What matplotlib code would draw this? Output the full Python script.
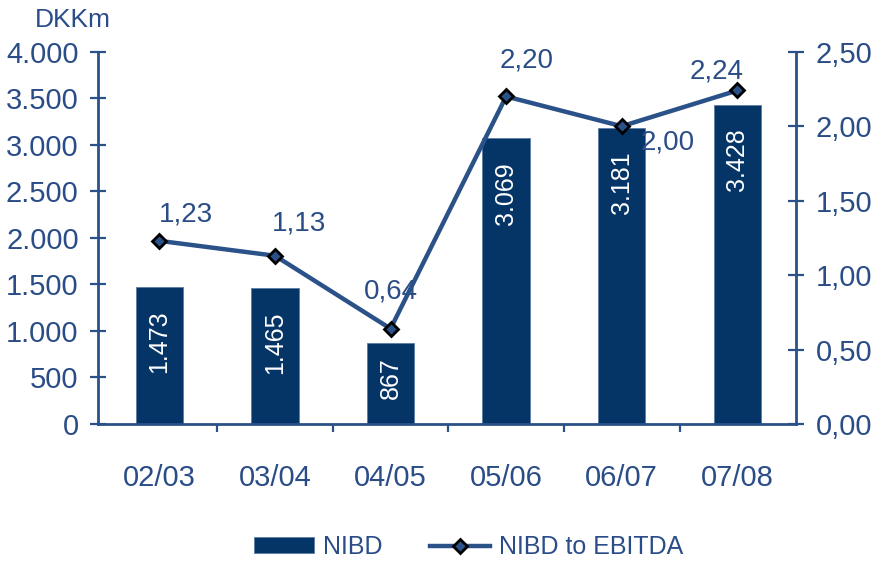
"""
NIBD og NIBD/EBITDA - søjler med linje på sekundær akse
"""

import matplotlib
matplotlib.use("Agg")
import matplotlib.pyplot as plt
from matplotlib.ticker import FuncFormatter, FixedLocator

# Data
perioder = ['02/03', '03/04', '04/05', '05/06', '06/07', '07/08']
nibd = [1473, 1465, 867, 3069, 3181, 3428]
nibd_ebitda = [1.23, 1.13, 0.64, 2.20, 2.00, 2.24]
venstre_ticks = [0, 500, 1000, 1500, 2000, 2500, 3000, 3500, 4000]
hoejre_ticks = [0.0, 0.5, 1.0, 1.5, 2.0, 2.5]

# label offsets (points) for the ratio labels
etiket_offset = [(19, 19), (17, 23), (0, 27), (15, 26), (33, -12), (-15, 14)]

BAR_FARVE = '#053567'
LINJE_FARVE = '#2B5189'
TEKST_FARVE = '#2A4D88'

plt.rcParams['font.family'] = ['Liberation Sans', 'DejaVu Sans']


def tusind(v, pos):
    return f"{int(v):,}".replace(',', '.')


def komma(v, pos):
    return f"{v:.2f}".replace('.', ',')


fig = plt.figure(figsize=(8.76, 5.63), dpi=100)
ax = fig.add_axes([0.112, 0.247, 0.797, 0.661])
ax2 = ax.twinx()

x = list(range(len(perioder)))
bars = ax.bar(x, nibd, width=0.41, color=BAR_FARVE, edgecolor='#5d7aa6',
              linewidth=0.6, zorder=2, label='NIBD')

for xi, v in zip(x, nibd):
    txt = tusind(v, None)
    off = -17 if v > 1000 else -10
    ax.annotate(txt, (xi, v), xytext=(0, off), textcoords='offset points',
                rotation=90, ha='center', va='top', color='white', fontsize=18,
                zorder=3)

linje, = ax2.plot(x, nibd_ebitda, color=LINJE_FARVE, linewidth=3.2,
                  marker='D', markersize=7, markerfacecolor=LINJE_FARVE,
                  markeredgecolor='black', markeredgewidth=2,
                  label='NIBD to EBITDA', zorder=4)

for xi, v, (dx, dy) in zip(x, nibd_ebitda, etiket_offset):
    ax2.annotate(komma(v, None), (xi, v), xytext=(dx, dy),
                 textcoords='offset points', ha='center', va='center',
                 color=TEKST_FARVE, fontsize=20)

ax.set_xlim(-0.53, 5.51)
ax.set_ylim(0, 4000)
ax2.set_ylim(0, 2.5)

ax.yaxis.set_major_locator(FixedLocator(venstre_ticks))
ax.yaxis.set_major_formatter(FuncFormatter(tusind))
ax2.yaxis.set_major_locator(FixedLocator(hoejre_ticks))
ax2.yaxis.set_major_formatter(FuncFormatter(komma))

ax.set_xticks(x)
ax.set_xticklabels(perioder)
ax.set_xticks([i + 0.5 for i in x[:-1]], minor=True)

for a in (ax, ax2):
    for s in a.spines.values():
        s.set_visible(False)
        s.set_color(LINJE_FARVE)
        s.set_linewidth(2)

ax.spines['left'].set_visible(True)
ax.spines['bottom'].set_visible(True)
ax2.spines['right'].set_visible(True)

ax.tick_params(axis='y', direction='inout', length=12, width=1.6,
               color=LINJE_FARVE, labelcolor=TEKST_FARVE, labelsize=21, pad=8)
ax2.tick_params(axis='y', direction='inout', length=12, width=1.6,
                color=LINJE_FARVE, labelcolor=TEKST_FARVE, labelsize=21, pad=8)
ax.tick_params(axis='x', which='major', length=0, labelcolor=TEKST_FARVE,
               labelsize=21, pad=29)
ax.tick_params(axis='x', which='minor', direction='out', length=6, width=1.6,
               color=LINJE_FARVE)

fig.text(0.04, 0.952, 'DKKm', color=TEKST_FARVE, fontsize=19, ha='left',
         va='baseline')

leg = fig.legend(handles=[bars, linje], loc='center', bbox_to_anchor=(0.535, 0.028),
                 ncol=2, frameon=False, fontsize=18, handlelength=2.4,
                 handleheight=0.6, columnspacing=1.9, handletextpad=0.36)
for t in leg.get_texts():
    t.set_color(TEKST_FARVE)

fig.savefig('out.png', dpi=100)
plt.close(fig)
